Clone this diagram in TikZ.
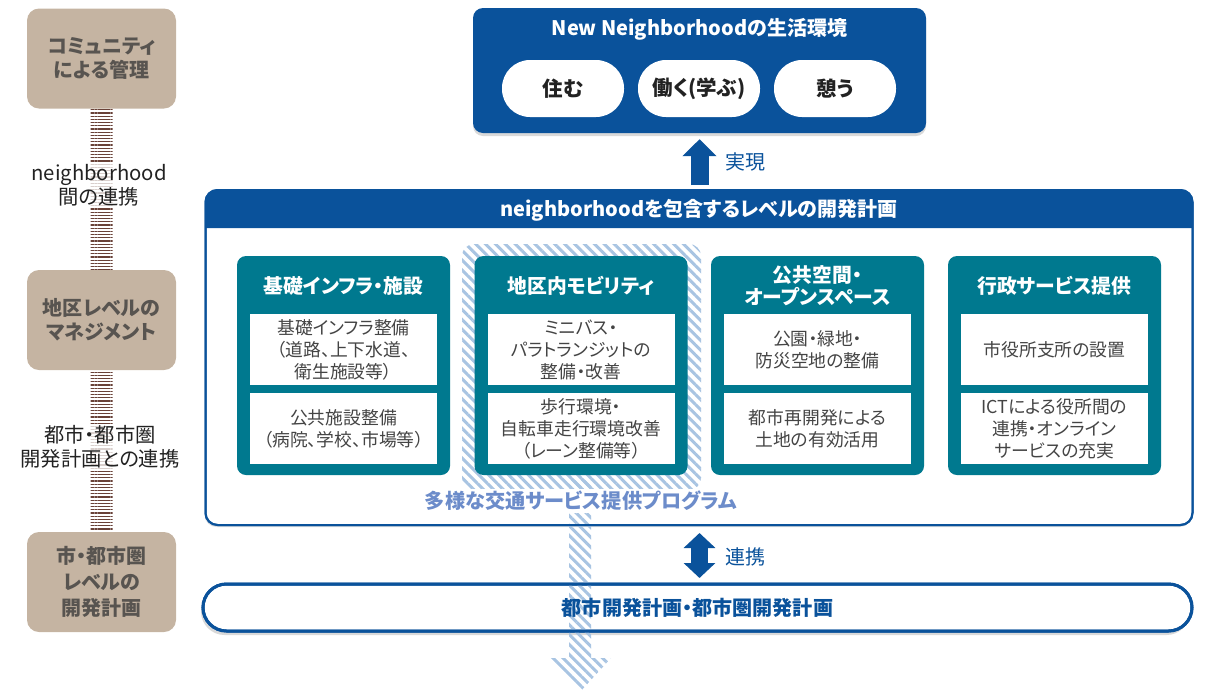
\documentclass[tikz,border=0pt]{standalone}
\usepackage{fontspec}
\setmainfont{Noto Sans CJK JP}[RawFeature=+palt]
\usetikzlibrary{patterns.meta,shadows,arrows.meta}
\definecolor{navy}{RGB}{10,82,155}
\definecolor{tealbox}{RGB}{0,121,143}
\definecolor{beige}{RGB}{197,180,162}
\definecolor{beigetext}{RGB}{88,84,80}
\definecolor{hatchblue}{RGB}{168,196,226}
\definecolor{progblue}{RGB}{108,140,202}
\definecolor{textgray}{RGB}{68,68,68}
\definecolor{stripebrown}{RGB}{105,65,55}
\definecolor{darktext}{RGB}{34,34,34}
\newcommand\myfs[2]{\fontsize{#1}{#2}\selectfont}
\begin{document}
\begin{tikzpicture}[x=1pt,y=-1pt,
  mgmt/.style={fill=beige, rounded corners=12pt, minimum width=149pt, minimum height=100pt, inner sep=0pt, text=beigetext, font=\bfseries\myfs{20}{24}, align=center},
  linklabel/.style={fill=white, fill opacity=0.75, text opacity=1, text=darktext, font=\myfs{20.3}{24}, align=center, inner sep=1pt},
  hstripe/.style={pattern={Lines[angle=0,distance=3.2pt,line width=1.3pt]}, pattern color=stripebrown},
  topbox/.style={fill=navy, rounded corners=10pt, minimum width=453pt, minimum height=125pt, drop shadow={opacity=0.3, shadow xshift=0pt, shadow yshift=-3pt}},
  whitetitle/.style={text=white, font=\bfseries\myfs{20}{22}},
  pill/.style={fill=white, rounded corners=28pt, minimum width=122pt, minimum height=57pt, inner sep=0pt, text=darktext, font=\bfseries\myfs{20.5}{22}},
  mainbox/.style={fill=white, draw=navy, line width=2pt, rounded corners=12pt, minimum width=987pt, minimum height=335pt, outer sep=0pt, drop shadow={opacity=0.25, shadow xshift=-1pt, shadow yshift=-2pt}},
  mainborder/.style={draw=navy, line width=2pt, rounded corners=12pt, minimum width=987pt, minimum height=335pt, outer sep=0pt},
  citybox/.style={fill=white, draw=navy, line width=3pt, rounded corners=23.5pt, minimum width=989pt, minimum height=47pt, outer sep=0pt, drop shadow={opacity=0.3, shadow xshift=-2pt, shadow yshift=-4pt}},
  cityborder/.style={draw=navy, line width=3pt, rounded corners=23.5pt, minimum width=989pt, minimum height=47pt, outer sep=0pt, text=navy, font=\bfseries\myfs{20.1}{22}},
  hatch/.style={pattern={Lines[angle=-45,distance=7pt,line width=3pt]}, pattern color=hatchblue},
  tealcard/.style={fill=tealbox, rounded corners=9pt, minimum width=213pt, minimum height=219pt, inner sep=0pt},
  tealtitle/.style={text=white, font=\bfseries\myfs{19.8}{22}, align=center},
  innerbox/.style={fill=white, minimum width=187pt, inner sep=0pt, text=textgray, font=\myfs{17.8}{22}, align=center},
  arrowlabel/.style={text=navy, font=\myfs{20}{22}},
  proglabel/.style={fill=white, text=progblue, font=\bfseries\myfs{20.2}{22}, inner sep=2pt}
]
\useasboundingbox (0,0) rectangle (1208,689);

% left column
\node[mgmt] (m1) at (101.5,58.5) {コミュニティ\\による管理};
\node[mgmt] (m2) at (101.5,320) {地区レベルの\\マネジメント};
\node[mgmt, font=\bfseries\myfs{20}{26}] (m3) at (101.5,582) {市・都市圏\\レベルの\\開発計画};
\path[hstripe] ([xshift=-11pt]m1.south) rectangle ([xshift=11pt]m2.north);
\path[hstripe] ([xshift=-11pt]m2.south) rectangle ([xshift=11pt]m3.north);
\node[linklabel] (l1) at (99,185) {neighborhood\\間の連携};
\node[linklabel] (l2) at (100,447) {都市・都市圏\\開発計画との連携};

% top box
\node[topbox] (nn) at (699.5,70.5) {};
\node[whitetitle] (nnt) at (699.5,29) {New Neighborhoodの生活環境};
\node[pill] (p1) at (563,88.5) {住む};
\node[pill] (p2) at (699,88.5) {働く(学ぶ)};
\node[pill] (p3) at (835,88.5) {憩う};

% main box and city box
\node[mainbox] (main) at (699,357.5) {};
\node[citybox] (city) at (697.5,607.5) {};
\fill[navy, rounded corners=12pt] ([yshift=-38pt]main.north west) |- (main.north) -| ([yshift=-38pt]main.north east);

% hatched program area
\path[hatch, rounded corners=12pt] (462,244) rectangle (701,490);
\path[hatch] (569,480) -- (591,480) -- (591,658) -- (611,658) -- (580,692) -- (549,658) -- (569,658) -- cycle;

\node[mainborder] (mainB) at (main.center) {};
\node[cityborder] (cityB) at (city.center) {都市開発計画・都市圏開発計画};
\node[whitetitle] (mt) at (699,210) {neighborhoodを包含するレベルの開発計画};

% teal cards
\node[tealcard] (t1) at (343.5,365.5) {};
\node[tealtitle] (t1t) at (343.5,286) {基礎インフラ・施設};
\node[innerbox, minimum height=71pt] (t1a) at (343.5,349.5) {基礎インフラ整備\\（道路、上下水道、\\衛生施設等）};
\node[innerbox, minimum height=71pt] (t1b) at (343.5,428.5) {公共施設整備\\（病院、学校、市場等）};

\node[tealcard] (t2) at (581,365.5) {};
\node[tealtitle] (t2t) at (581,286) {地区内モビリティ};
\node[innerbox, minimum height=71pt] (t2a) at (581,349.5) {ミニバス・\\パラトランジットの\\整備・改善};
\node[innerbox, minimum height=71pt] (t2b) at (581,428.5) {歩行環境・\\自転車走行環境改善\\（レーン整備等）};

\node[tealcard] (t3) at (817.5,365.5) {};
\node[tealtitle] (t3t) at (817.5,286) {公共空間・\\オープンスペース};
\node[innerbox, minimum height=71pt] (t3a) at (817.5,349.5) {公園・緑地・\\防災空地の整備};
\node[innerbox, minimum height=71pt] (t3b) at (817.5,428.5) {都市再開発による\\土地の有効活用};

\node[tealcard] (t4) at (1054.5,365.5) {};
\node[tealtitle] (t4t) at (1054.5,286) {行政サービス提供};
\node[innerbox, minimum height=71pt] (t4a) at (1054.5,349.5) {市役所支所の設置};
\node[innerbox, minimum height=71pt] (t4b) at (1054.5,428.5) {ICTによる役所間の\\連携・オンライン\\サービスの充実};

\node[proglabel] (prog) at (581,501) {多様な交通サービス提供プログラム};

% arrows
\draw[navy, line width=18pt, -{Triangle[width=33pt,length=17pt]}] ([yshift=5pt]main.north -| nn.south) -- ([yshift=-6pt]nn.south);
\node[arrowlabel] (real) at (745,162) {実現};
\draw[navy, line width=17pt, {Triangle[width=31pt,length=15pt]}-{Triangle[width=31pt,length=15pt]}] ([yshift=-8pt]main.south -| nn.south) -- ([yshift=6pt]city.north -| nn.south);
\node[arrowlabel] (link) at (745,557) {連携};
\end{tikzpicture}
\end{document}
